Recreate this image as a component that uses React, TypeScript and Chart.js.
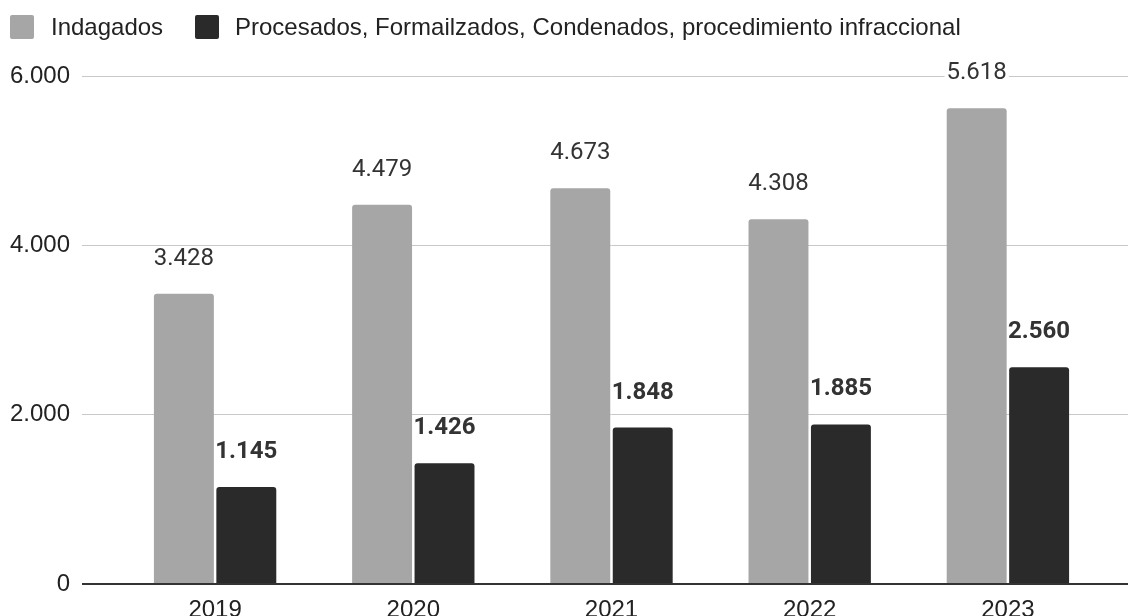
import React, { useEffect, useRef } from "react";
import { Chart, registerables } from "chart.js";

Chart.register(...registerables);

const categories = ["2019", "2020", "2021", "2022", "2023"];
const indagados = [3428, 4479, 4673, 4308, 5618];
const procesados = [1145, 1426, 1848, 1885, 2560];
const seriesNames = [
  "Indagados",
  "Procesados, Formailzados, Condenados, procedimiento infraccional",
];
const yTicks = [0, 2000, 4000, 6000];
const colors = ["#a6a6a6", "#2a2a2a"];

const fmt = (v: number) => v.toLocaleString("de-DE");

const gridColor = (v: number) => (v === 0 ? "#333333" : "#c8c8c8");
const gridWidth = (v: number) => (v === 0 ? 2 : 1);

const customPlugin = {
  id: "custom",
  beforeDatasetsDraw(chart: any) {
    // extend gridlines to the right edge of the canvas
    const { ctx, chartArea } = chart;
    const y = chart.scales.y;
    ctx.save();
    yTicks.forEach((t) => {
      const py = y.getPixelForValue(t);
      const lw = gridWidth(t);
      const yy = Math.round(py - lw / 2) + lw / 2;
      ctx.strokeStyle = gridColor(t);
      ctx.lineWidth = lw;
      ctx.beginPath();
      ctx.moveTo(chartArea.right - 2, yy);
      ctx.lineTo(chart.width, yy);
      ctx.stroke();
    });
    ctx.restore();
  },
  afterDatasetsDraw(chart: any) {
    const { ctx } = chart;
    ctx.save();
    chart.data.datasets.forEach((ds: any, di: number) => {
      const meta = chart.getDatasetMeta(di);
      ctx.font =
        (di === 1 ? "bold " : "") + "24px Roboto, 'Liberation Sans', sans-serif";
      ctx.textAlign = "center";
      ctx.textBaseline = "middle";
      meta.data.forEach((bar: any, i: number) => {
        const txt = fmt(ds.data[i]);
        const tx = bar.x;
        const ty = bar.y - 35;
        const w = ctx.measureText(txt).width;
        if (di === 0) {
          ctx.fillStyle = "#ffffff";
          ctx.fillRect(tx - w / 2 - 2, ty - 9, w + 4, 19);
        }
        ctx.fillStyle = "#333333";
        ctx.fillText(txt, tx, ty);
      });
    });

    ctx.font = "24px 'Liberation Sans', Arial, sans-serif";
    ctx.textAlign = "left";
    ctx.textBaseline = "middle";
    const items = [
      { box: 10, text: 51 },
      { box: 195, text: 235 },
    ];
    items.forEach((it, i) => {
      ctx.fillStyle = colors[i];
      ctx.beginPath();
      (ctx as any).roundRect(it.box, 15, 24, 24, 2);
      ctx.fill();
      ctx.fillStyle = "#222222";
      ctx.fillText(seriesNames[i], it.text, 28);
    });
    ctx.restore();
  },
};

export default function App() {
  const ref = useRef<HTMLCanvasElement | null>(null);
  useEffect(() => {
    document.body.style.margin = "0";
    const chart = new Chart(ref.current as HTMLCanvasElement, {
      type: "bar",
      data: {
        labels: categories,
        datasets: [
          {
            label: seriesNames[0],
            data: indagados,
            backgroundColor: colors[0],
            borderRadius: 3,
            categoryPercentage: 0.63,
            barPercentage: 0.96,
          },
          {
            label: seriesNames[1],
            data: procesados,
            backgroundColor: colors[1],
            borderRadius: 3,
            categoryPercentage: 0.63,
            barPercentage: 0.96,
          },
        ],
      },
      options: {
        animation: false,
        responsive: true,
        maintainAspectRatio: false,
        layout: { padding: { top: 76, right: 21, left: 0, bottom: 0 } },
        plugins: { legend: { display: false }, tooltip: { enabled: false } },
        scales: {
          x: {
            grid: { display: false },
            border: { display: false },
            ticks: {
              color: "#222222",
              font: { family: "'Liberation Sans', Arial, sans-serif", size: 24 },
              padding: 4,
            },
            afterFit: (s: any) => {
              s.height = 32;
            },
          },
          y: {
            min: 0,
            max: 6000,
            afterBuildTicks: (s: any) => {
              s.ticks = yTicks.map((v) => ({ value: v }));
            },
            grid: {
              display: true,
              drawTicks: true,
              tickLength: 34,
              color: (c: any) => gridColor(c.tick ? c.tick.value : -1),
              tickColor: (c: any) => gridColor(c.tick ? c.tick.value : -1),
              lineWidth: (c: any) => gridWidth(c.tick ? c.tick.value : -1),
            },
            border: { display: false },
            ticks: {
              color: "#222222",
              font: { family: "'Liberation Sans', Arial, sans-serif", size: 24 },
              padding: 12,
              callback: (v: any) => fmt(Number(v)),
            },
            afterFit: (s: any) => {
              s.width = 116;
            },
          },
        },
      },
      plugins: [customPlugin],
    });
    return () => chart.destroy();
  }, []);
  return (
    <div style={{ position: "fixed", left: 0, top: 0, width: 1128, height: 616 }}>
      <canvas ref={ref} />
    </div>
  );
}
